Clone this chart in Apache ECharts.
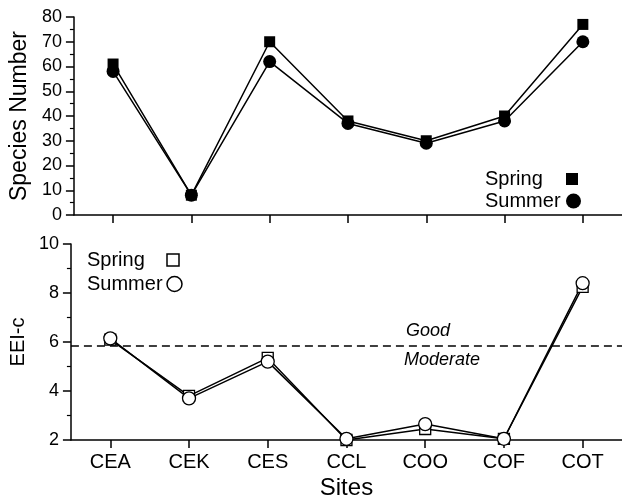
<!DOCTYPE html>
<html>
<head>
<meta charset="utf-8">
<script src="https://cdn.jsdelivr.net/npm/echarts@6/dist/echarts.min.js"></script>
<style>
  html, body { margin: 0; padding: 0; background: #fff; }
  #chart { width: 622px; height: 501px; }
</style>
</head>
<body>
<div id="chart"></div>
<script>
// Sampling sites along the x axis
const sites = ['CEA', 'CEK', 'CES', 'CCL', 'COO', 'COF', 'COT'];

// Species number per site
const springSpecies = [61, 8, 70, 38, 30, 40, 77];
const summerSpecies = [58, 8, 62, 37, 29, 38, 70];

// EEI-c index per site
const springEEI = [6.1, 3.8, 5.35, 2.0, 2.45, 2.05, 8.25];
const summerEEI = [6.15, 3.7, 5.2, 2.05, 2.65, 2.05, 8.4];

// Boundary between the "Good" and "Moderate" status classes
const goodModerateBoundary = 5.83;

const FONT = '"Liberation Sans", Arial, Helvetica, sans-serif';
const INK = '#000';

const chart = echarts.init(document.getElementById('chart'), null, { renderer: 'canvas' });

function categoryAxis(gridIndex, withLabels) {
  return {
    type: 'category',
    gridIndex,
    data: sites,
    boundaryGap: true,
    axisLine: { show: true, lineStyle: { color: INK, width: 1.5 } },
    axisTick: { show: true, alignWithLabel: true, length: 8, lineStyle: { color: INK, width: 1.5 } },
    axisLabel: { show: withLabels, color: INK, fontSize: 20, fontFamily: FONT, margin: 12 },
    splitLine: { show: false },
    name: withLabels ? 'Sites' : '',
    nameLocation: 'middle',
    nameGap: 36,
    nameTextStyle: { color: INK, fontSize: 24, fontFamily: FONT }
  };
}

function valueAxis(gridIndex, min, max, interval, name, nameGap, nameSize) {
  return {
    type: 'value',
    gridIndex,
    min, max, interval,
    axisLine: { show: true, lineStyle: { color: INK, width: 1.5 } },
    axisTick: { show: true, length: 8, lineStyle: { color: INK, width: 1.5 } },
    minorTick: { show: true, splitNumber: 2, length: 4, lineStyle: { color: INK, width: 1.2 } },
    axisLabel: { color: INK, fontSize: 18, fontFamily: FONT, margin: 12 },
    splitLine: { show: false },
    minorSplitLine: { show: false },
    name,
    nameLocation: 'middle',
    nameGap,
    nameTextStyle: { color: INK, fontSize: nameSize, fontFamily: FONT }
  };
}

// One legend entry: text block of fixed width, symbol to its right
function legendItem(name, icon, size, left, top, textWidth, filled) {
  return {
    orient: 'vertical',
    align: 'right',
    left, top,
    itemWidth: size,
    itemHeight: size,
    selectedMode: false,
    formatter: '{t|{name}}',
    textStyle: {
      color: INK, fontSize: 20, fontFamily: FONT,
      rich: { t: { width: textWidth, fontSize: 20, fontFamily: FONT, color: INK, align: 'left' } }
    },
    data: [{
      name,
      icon,
      itemStyle: filled
        ? { color: INK, borderWidth: 0 }
        : { color: '#fff', borderColor: INK, borderWidth: 1.5 }
    }]
  };
}

const option = {
  animation: false,
  backgroundColor: '#fff',
  textStyle: { fontFamily: FONT },
  grid: [
    { left: 69, right: 0, top: 17, height: 198 },
    { left: 69, right: 0, top: 244, height: 198 }
  ],
  xAxis: [categoryAxis(0, false), categoryAxis(1, true)],
  yAxis: [
    valueAxis(0, 0, 80, 10, 'Species Number', 40, 23),
    valueAxis(1, 2, 10, 2, 'EEI-c', 25, 20)
  ],
  legend: [
    legendItem('Spring', 'rect', 12, 480, 164, 76, true),
    legendItem('Summer', 'circle', 15, 480, 186, 76, true),
    legendItem('Spring', 'rect', 12, 82, 245, 75, false),
    legendItem('Summer', 'circle', 15, 82, 269, 75, false)
  ],
  series: [
    {
      name: 'Spring', type: 'line', xAxisIndex: 0, yAxisIndex: 0,
      data: springSpecies,
      symbol: 'rect', symbolSize: 11,
      itemStyle: { color: INK },
      lineStyle: { color: INK, width: 1.5 }
    },
    {
      name: 'Summer', type: 'line', xAxisIndex: 0, yAxisIndex: 0,
      data: summerSpecies,
      symbol: 'circle', symbolSize: 13,
      itemStyle: { color: INK },
      lineStyle: { color: INK, width: 1.5 }
    },
    {
      name: 'Spring', type: 'line', xAxisIndex: 1, yAxisIndex: 1,
      data: springEEI,
      symbol: 'rect', symbolSize: 11,
      itemStyle: { color: '#fff', borderColor: INK, borderWidth: 1.3 },
      lineStyle: { color: INK, width: 1.5 },
      markLine: {
        silent: true,
        symbol: ['none', 'none'],
        label: { show: false },
        lineStyle: { color: INK, width: 1.5, type: [8, 5] },
        data: [{ yAxis: goodModerateBoundary }]
      }
    },
    {
      name: 'Summer', type: 'line', xAxisIndex: 1, yAxisIndex: 1,
      data: summerEEI,
      symbol: 'circle', symbolSize: 13,
      itemStyle: { color: '#fff', borderColor: INK, borderWidth: 1.3 },
      lineStyle: { color: INK, width: 1.5 }
    }
  ]
};

chart.setOption(option);

// Class labels on either side of the dashed boundary
const boundaryY = chart.convertToPixel({ yAxisIndex: 1 }, goodModerateBoundary);
chart.setOption({
  graphic: [
    {
      type: 'text', left: 406, top: boundaryY - 24,
      style: { text: 'Good', fill: INK, font: 'italic 18px ' + FONT }
    },
    {
      type: 'text', left: 404, top: boundaryY + 5,
      style: { text: 'Moderate', fill: INK, font: 'italic 18px ' + FONT }
    }
  ]
});
</script>
</body>
</html>
